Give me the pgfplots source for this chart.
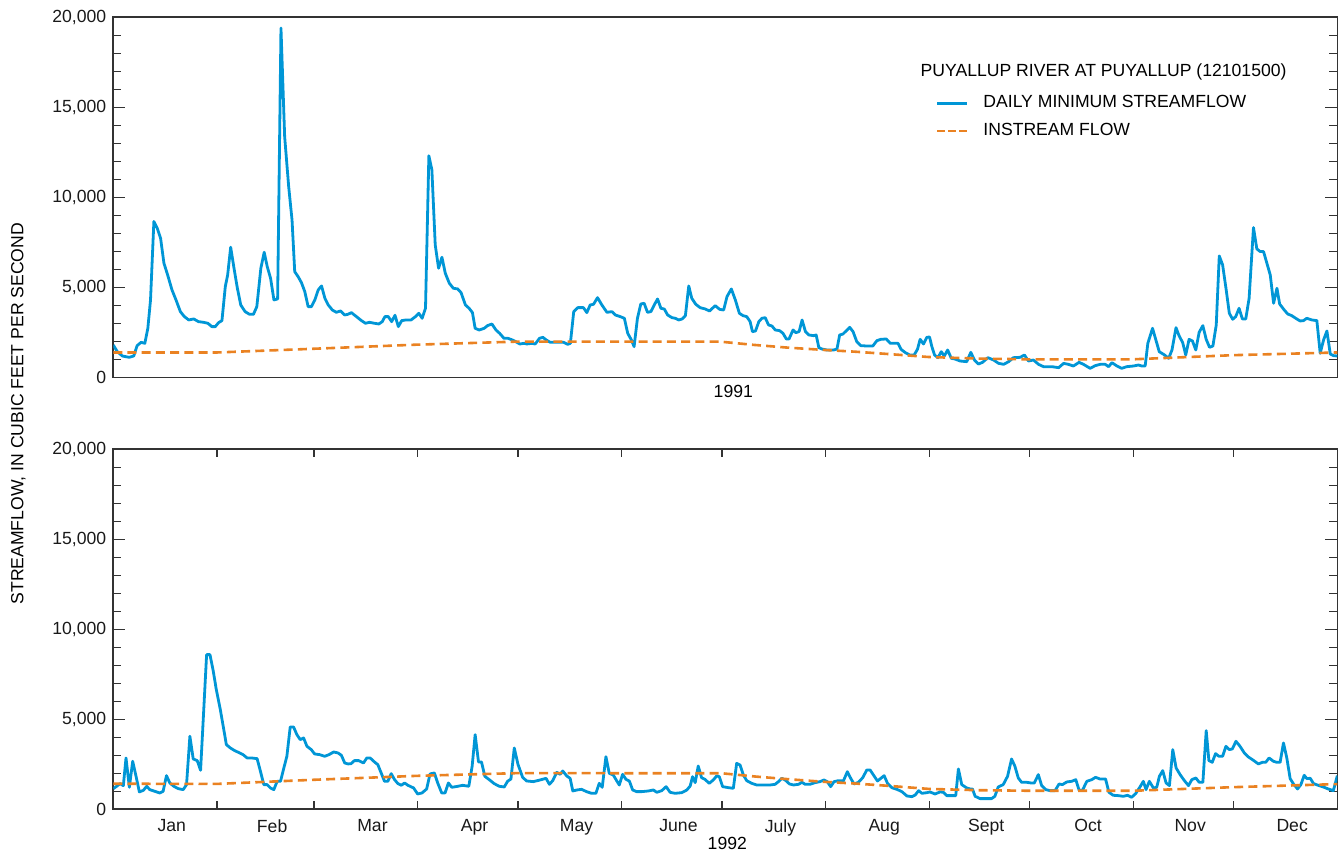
\documentclass[border=0pt]{standalone}
\usepackage{fontspec}
\setmainfont{Liberation Sans}
\usepackage{pgfplots}
\pgfplotsset{compat=1.18}
\definecolor{flowblue}{RGB}{0,150,214}
\definecolor{instorange}{RGB}{234,130,34}
\definecolor{axgray}{RGB}{51,51,51}
\pgfplotsset{
  riverstyle/.style={
    scale only axis,
    width=612pt,
    xmin=0,
    ymin=0, ymax=20000,
    ytick={0,5000,10000,15000,20000},
    minor y tick num=4,
    scaled y ticks=false,
    tick align=inside,
    major tick length=6pt,
    minor tick length=4pt,
    axis line style={axgray, line width=0.8pt},
    every tick/.style={axgray, line width=0.7pt},
    /pgf/number format/assume math mode=true,
    /pgf/number format/1000 sep={,},
    ticklabel style={font=\fontsize{8.8}{10}\selectfont, text=black!90},
    clip mode=individual,
  },
  flow/.style={flowblue, line width=1.4pt, line join=round},
  inst/.style={instorange, line width=1.3pt, dash pattern=on 4.5pt off 2.6pt},
}
\begin{document}
\begin{tikzpicture}
\path[use as bounding box] (-56.65pt,-238.65pt) rectangle (612.35pt,188.85pt);
% ---------------- 1991 ----------------
\begin{axis}[riverstyle,
  at={(0pt,0pt)}, anchor=south west,
  height=180.2pt,
  xmax=365,
  xtick=\empty,
  minor xtick={31,59,90,120,151,181,212,243,273,304,334},
  legend style={at={(rel axis cs:0.6715,0.795)}, anchor=north west, draw=none, fill=none,
    font=\fontsize{8.8}{10}\selectfont, row sep=2.2pt, inner sep=0pt,
    /tikz/every odd column/.append style={column sep=5.5pt}},
  legend cell align=left,
  legend image code/.code={\draw[#1] (0pt,0pt) -- (15pt,0pt);},
]
\addlegendimage{flow}
\addlegendentry{DAILY MINIMUM STREAMFLOW}
\addlegendimage{instorange, line width=1.3pt, dash pattern=on 4pt off 1.5pt}
\addlegendentry{INSTREAM FLOW}
\addplot[flow, forget plot] coordinates {
(0,1815) (1.2,1444) (2.7,1204) (4.7,1130) (6.1,1204) (7.1,1778) (8.3,1963) (9.4,1907)
(10.3,2740) (11.1,4315) (12.1,8667) (13.1,8296) (14.1,7741) (15.1,6352) (16.2,5704)
(17.5,4870) (18.7,4315) (20.0,3667) (21.2,3389) (22.5,3204) (24.0,3259) (25.4,3111)
(26.9,3074) (28.2,3019) (29.4,2833) (30.4,2833) (31.4,3056) (32.4,3167) (33.4,5056)
(34.1,5704) (35.0,7241) (36.0,6074) (37.0,4963) (38.0,4037) (39.3,3667) (40.6,3519)
(41.8,3519) (42.8,3944) (44.0,6074) (45.0,6963) (45.9,6167) (46.9,5519) (47.9,4315)
(49.0,4370) (50.0,19400) (51.1,13375) (52.3,10600) (53.3,8750) (54.1,5883) (55.1,5611)
(56.1,5278) (57.1,4778) (58.1,3944) (59.1,3944) (60.1,4315) (61.1,4870) (62.1,5093)
(63.1,4407) (64.1,4037) (65.3,3759) (66.5,3630) (67.8,3704) (69.0,3481) (70.0,3519)
(71.0,3611) (72.5,3389) (74.0,3167) (75.2,3019) (76.4,3074) (77.9,3019) (79.2,2981)
(80.2,3111) (81.0,3389) (82.0,3389) (83.0,3111) (84.0,3463) (85.0,2833) (86.0,3167)
(87.3,3204) (88.8,3204) (90.1,3389) (91.1,3574) (92.1,3296) (93.1,3852) (94.1,12315)
(95.0,11537) (96.0,7370) (97.0,6074) (98.0,6685) (99.0,5796) (100.2,5241) (101.4,4963)
(102.7,4926) (103.7,4722) (105.0,4037) (106.1,3852) (107.1,3611) (107.9,2741) (109.1,2648)
(110.6,2741) (111.6,2889) (112.9,2981) (114.1,2648) (115.2,2463) (116.5,2185) (117.7,2185)
(119.0,2093) (120.0,2000) (121.2,1870) (122.5,1907) (123.3,1870) (124.8,1907) (125.8,1870)
(127.1,2185) (128.1,2240) (129.1,2093) (130.3,1963) (132.3,1963) (134.3,1963) (135.5,1852)
(136.3,1907) (137.3,3665) (138.5,3887) (140.2,3887) (141.2,3610) (142.2,4035) (143.2,4072)
(144.4,4442) (145.7,4035) (147.2,3628) (148.7,3665) (149.7,3480) (151.2,3388) (152.4,3295)
(153.4,2463) (154.5,2093) (155.3,1722) (156.3,3295) (157.3,4090) (158.3,4127) (159.3,3628)
(160.3,3665) (161.3,4035) (162.3,4368) (163.3,3850) (164.3,3813) (165.3,3480) (166.6,3332)
(167.6,3295) (168.6,3203) (169.6,3258) (170.6,3443) (171.6,5090) (172.5,4405) (173.7,4072)
(175.0,3887) (176.5,3813) (177.8,3702) (179.5,3998) (180.8,3795) (182.0,3757) (183.0,4498)
(184.3,4923) (185.5,4312) (186.7,3572) (187.8,3443) (188.9,3388) (189.9,3110) (190.6,2555)
(191.5,2592) (192.5,3110) (193.4,3295) (194.4,3332) (195.4,2925) (196.4,2870) (197.4,2648)
(198.7,2610) (199.7,2463) (200.7,2148) (201.5,2148) (202.7,2648) (203.5,2500) (204.5,2555)
(205.4,3203) (206.4,2555) (207.4,2370) (208.8,2333) (209.6,2370) (210.4,1667) (211.3,1592)
(212.8,1537) (214.8,1537) (215.8,1592) (216.6,2370) (217.6,2425) (218.6,2610) (219.6,2795)
(220.6,2555) (221.7,2000) (222.9,1778) (224.7,1759) (226.5,1759) (227.7,2055) (228.9,2130)
(230.5,2148) (231.7,1907) (233.2,1907) (234.0,1907) (234.9,1574) (236.2,1389) (237.5,1259)
(238.8,1259) (239.8,1574) (240.6,2130) (241.6,1870) (242.6,2240) (243.4,2260) (244.1,1722)
(244.9,1259) (245.9,1111) (246.9,1444) (247.8,1204) (248.8,1537) (249.9,1074) (251.0,1037)
(252.5,926) (254.5,889) (255.7,1407) (256.8,981) (258.0,759) (259.2,852) (260.8,1111)
(262.5,981) (264.0,796) (265.5,741) (267.0,889) (268.4,1111) (270.4,1130) (271.7,1259)
(272.9,926) (274.4,981) (275.9,741) (277.4,611) (279.9,611) (281.9,556) (283.4,796)
(284.8,741) (286.3,648) (288.0,852) (289.3,741) (291.3,519) (292.8,667) (294.3,741)
(295.8,741) (296.8,611) (297.8,833) (299.3,648) (300.7,519) (302.2,611) (304.2,648)
(305.7,704) (306.7,648) (307.7,648) (308.5,1907) (309.9,2741) (310.9,2093) (311.9,1444)
(313.5,1259) (314.7,1074) (315.7,1537) (316.9,2778) (317.8,2333) (318.9,1944) (319.8,1259)
(320.8,2130) (321.8,2037) (322.8,1537) (323.8,2519) (324.9,2889) (325.9,2130) (326.9,1685)
(327.9,1759) (328.9,2926) (329.8,6759) (330.8,6259) (331.8,4963) (332.8,3574) (333.8,3241)
(334.7,3389) (335.7,3852) (336.7,3259) (337.7,3259) (338.7,4407) (340.0,8333) (341.0,7148)
(342.0,7000) (343.0,7000) (344.0,6352) (345.0,5704) (346.0,4130) (347.0,4963) (347.8,4093)
(349.0,3796) (350.2,3537) (351.4,3444) (352.6,3296) (353.9,3148) (354.9,3167) (355.9,3296)
(357.4,3204) (358.9,3167) (359.9,1352) (360.9,2093) (361.9,2593) (362.9,1315) (363.9,1222)
(365.0,1204)
};
\addplot[inst, forget plot] coordinates {
(0,1400) (31,1400) (59,1600) (90,1830) (120,2000) (181,2000) (191,1820) (201,1670)
(212,1540) (221,1445) (231,1315) (243,1150) (258,1060) (273,1020) (304,1020) (334,1250) (365,1400)
};
\node[anchor=west, font=\fontsize{8.8}{10}\selectfont, inner sep=0pt] at (rel axis cs:0.6593,0.848) {PUYALLUP RIVER AT PUYALLUP (12101500)};
\node[anchor=north, font=\fontsize{8.8}{10}\selectfont, inner sep=0pt] at (rel axis cs:0.5,0) [xshift=4pt, yshift=-3.5pt] {1991};
\end{axis}
% ---------------- 1992 ----------------
\begin{axis}[riverstyle,
  at={(0pt,-35.8pt)}, anchor=north west,
  height=180pt,
  xmax=366,
  xtick={17.5,47.5,77.5,108,138.5,169,199.5,230.5,261,291.5,322,352.5},
  xticklabels={Jan,Feb,Mar,Apr,May,June,July,Aug,Sept,Oct,Nov,Dec},
  major x tick style={draw=none},
  xticklabel style={yshift=-1.5pt},
  minor xtick={31,60,91,121,152,182,213,244,274,305,335},
]
\addplot[flow] coordinates {
(0,1148) (1.0,1278) (2.0,1426) (3.0,1315) (3.8,2852) (4.8,1222) (5.8,2667) (6.8,1833)
(7.8,963) (9.0,1056) (10.0,1278) (10.9,1093) (12.4,1000) (13.9,907) (14.9,1000) (15.9,1870)
(16.9,1463) (18.1,1278) (19.4,1148) (20.9,1093) (21.9,1370) (22.9,4056) (23.9,2796)
(25.1,2704) (26.1,2167) (27.1,5722) (27.9,8593) (28.9,8593) (29.9,7667) (30.8,6648)
(32.0,5537) (33.3,4148) (33.8,3593) (35.0,3407) (36.3,3259) (37.8,3130) (38.8,3037)
(40.0,2852) (41.3,2852) (43.0,2815) (44.0,2111) (45.0,1370) (46.0,1370) (47.0,1185)
(48.0,1093) (49.0,1556) (50.0,1556) (51.0,2296) (51.9,2944) (52.9,4574) (53.9,4574)
(54.9,4148) (55.9,3870) (56.9,3963) (57.9,3500) (59.2,3315) (60.2,3074) (61.7,3037)
(63.2,2944) (64.5,3037) (65.9,3185) (67.2,3130) (68.2,3000) (69.2,2574) (70.2,2519)
(71.1,2537) (72.1,2704) (73.4,2704) (74.8,2574) (75.8,2852) (76.8,2852) (78.1,2630)
(79.1,2481) (80.1,2019) (81.1,1556) (82.1,1556) (83.1,1981) (84.1,1648) (85.1,1426)
(86.1,1333) (87.1,1463) (88.1,1333) (89.8,1185) (91.0,852) (92.3,907) (93.7,1130)
(94.7,1963) (96.0,2019) (97.0,1463) (98.2,907) (99.2,907) (100.2,1463) (101.2,1222)
(103.0,1278) (104.5,1333) (106.3,1278) (107.3,2389) (108.2,4148) (109.2,2630) (110.1,2630)
(111.1,1833) (112.4,1648) (113.9,1426) (115.4,1278) (116.9,1241) (117.9,1556) (118.9,1685)
(119.9,3407) (121.0,2500) (122.4,1776) (123.6,1573) (125.6,1536) (127.6,1628) (129.4,1721)
(130.4,1388) (131.4,1591) (132.6,2054) (133.6,1943) (134.4,2128) (135.6,1850) (136.6,1721)
(137.4,1018) (138.6,1073) (140.0,1110) (141.5,981) (143.0,888) (144.3,888) (145.3,1443)
(146.2,1221) (147.3,2923) (148.3,1998) (149.5,1906) (150.5,1591) (151.3,1351) (152.3,1943)
(153.3,1665) (154.3,1573) (155.3,1073) (156.5,981) (158.0,981) (160.0,1018) (161.5,1073)
(162.5,944) (164.0,1036) (165.3,1258) (166.5,944) (168.0,888) (170.0,925) (171.5,1073)
(172.5,1295) (173.2,1813) (174.0,1480) (174.9,2405) (175.9,1758) (176.9,1665) (178.2,1443)
(179.4,1628) (180.4,1850) (181.2,1813) (182.2,1258) (183.9,1203) (185.4,1166) (186.4,2553)
(187.4,2461) (188.4,1906) (189.4,1591) (190.9,1443) (192.4,1351) (194.4,1351) (196.4,1351)
(197.9,1388) (198.9,1536) (199.9,1721) (200.9,1628) (202.2,1406) (203.4,1351) (204.9,1388)
(205.9,1499) (206.9,1388) (208.3,1388) (209.8,1480) (211.3,1536) (212.5,1628) (213.5,1536)
(214.5,1258) (215.5,1536) (216.8,1591) (218.3,1573) (219.5,2091) (220.5,1721) (221.5,1406)
(222.8,1499) (224.1,1758) (225.3,2183) (226.3,2183) (227.3,1906) (228.5,1573) (229.5,1721)
(230.5,1869) (231.5,1443) (232.8,1203) (234.3,1110) (235.8,981) (237.3,740) (238.8,703)
(239.8,796) (240.8,1036) (241.8,888) (243.3,925) (244.2,963) (245.7,852) (247.2,963)
(248.2,944) (249.2,759) (250.7,759) (251.9,759) (252.7,2241) (253.7,1370) (255.2,1185)
(256.2,1130) (256.9,1130) (257.7,722) (259.2,593) (261.2,593) (262.6,593) (263.6,722)
(264.6,1241) (266.1,1370) (267.4,1833) (268.6,2796) (269.6,2389) (270.6,1741) (271.6,1500)
(273.1,1500) (274.4,1463) (275.4,1463) (276.6,1926) (277.6,1315) (278.8,1093) (280.1,1037)
(281.6,1037) (282.8,1407) (283.8,1370) (285.1,1519) (286.6,1556) (287.8,1648) (288.8,1056)
(289.8,1056) (291.1,1556) (292.6,1648) (293.7,1778) (295.0,1685) (296.7,1685) (297.7,944)
(299.0,778) (300.5,759) (302.0,722) (303.3,778) (304.5,667) (305.7,870) (307.0,1241)
(308.0,1556) (308.8,1093) (309.8,1556) (311.0,1185) (312.0,1222) (312.8,1833) (313.8,2148)
(314.8,1463) (315.8,1315) (316.8,3315) (317.8,2296) (319.0,1926) (320.2,1611) (321.5,1315)
(322.5,1648) (323.7,1741) (324.7,1500) (325.8,1500) (326.8,4370) (327.6,2704) (328.6,2611)
(329.6,3093) (330.6,2944) (331.7,2944) (332.7,3500) (333.7,3315) (334.6,3352) (335.7,3778)
(336.9,3500) (338.2,3130) (339.4,2907) (340.9,2722) (342.4,2519) (343.6,2611) (344.6,2611)
(345.6,2852) (346.9,2667) (347.9,2611) (348.9,2611) (349.9,3685) (350.9,2852) (351.9,1704)
(352.9,1407) (354.1,1130) (355.1,1370) (356.1,1889) (356.9,1704) (357.9,1722) (358.9,1426)
(360.3,1333) (361.8,1241) (363.3,1130) (364.8,1037) (365.3,1370) (366.0,1870)
};
\addplot[inst] coordinates {
(0,1420) (31,1410) (60,1640) (91,1860) (121,2010) (182,2000) (192,1820) (202,1670)
(213,1520) (222,1430) (232,1300) (244,1130) (259,1060) (274,1030) (305,1030) (335,1230) (366,1400)
};
\node[anchor=north, font=\fontsize{8.8}{10}\selectfont, inner sep=0pt] at (rel axis cs:0.5,0) [xshift=1pt, yshift=-14pt] {1992};
\end{axis}
\node[rotate=90, font=\fontsize{8.8}{10}\selectfont] at (-47.5pt,-18pt) {STREAMFLOW, IN CUBIC FEET PER SECOND};
\end{tikzpicture}
\end{document}
